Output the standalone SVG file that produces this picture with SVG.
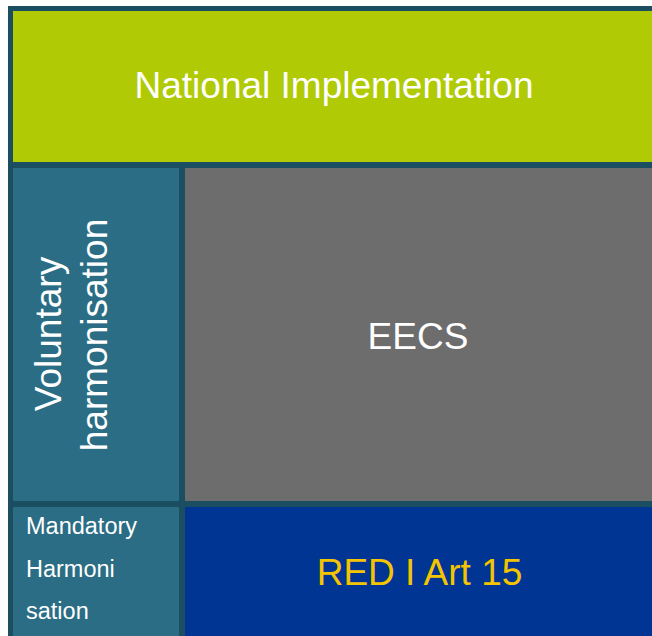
<svg xmlns="http://www.w3.org/2000/svg" width="652" height="636" viewBox="0 0 652 636">
<style>
text{font-family:"Liberation Sans",Arial,sans-serif;}
.big{font-size:37px;text-anchor:middle;}
.w{fill:#ffffff;}
.small{font-size:23.5px;fill:#ffffff;}
</style>
<rect x="0" y="0" width="652" height="636" fill="#ffffff"/>
<rect id="frame" x="8" y="6" width="650" height="640" fill="#1b4e60"/>
<g id="national">
<rect x="13" y="11" width="645" height="151" fill="#b0cb05"/>
<text class="big w" x="334" y="98">National Implementation</text>
</g>
<g id="voluntary">
<rect x="13" y="168" width="166" height="333" fill="#2a6d84"/>
<text class="big w" transform="translate(61,334) rotate(-90)" x="0" y="0">Voluntary</text>
<text class="big w" transform="translate(107,335) rotate(-90)" x="0" y="0">harmonisation</text>
</g>
<g id="eecs">
<rect x="185" y="168" width="473" height="333" fill="#6d6d6d"/>
<text class="big w" x="418" y="349">EECS</text>
</g>
<g id="mandatory">
<rect x="13" y="507" width="166" height="140" fill="#2a6d84"/>
<text class="small" x="26" y="534">Mandatory</text>
<text class="small" x="26" y="577">Harmoni</text>
<text class="small" x="26" y="619">sation</text>
</g>
<g id="red">
<rect x="185" y="507" width="473" height="140" fill="#003594"/>
<text class="big" fill="#f5c400" x="419.5" y="585">RED I Art 15</text>
</g>
<g id="connectors"></g>
</svg>
